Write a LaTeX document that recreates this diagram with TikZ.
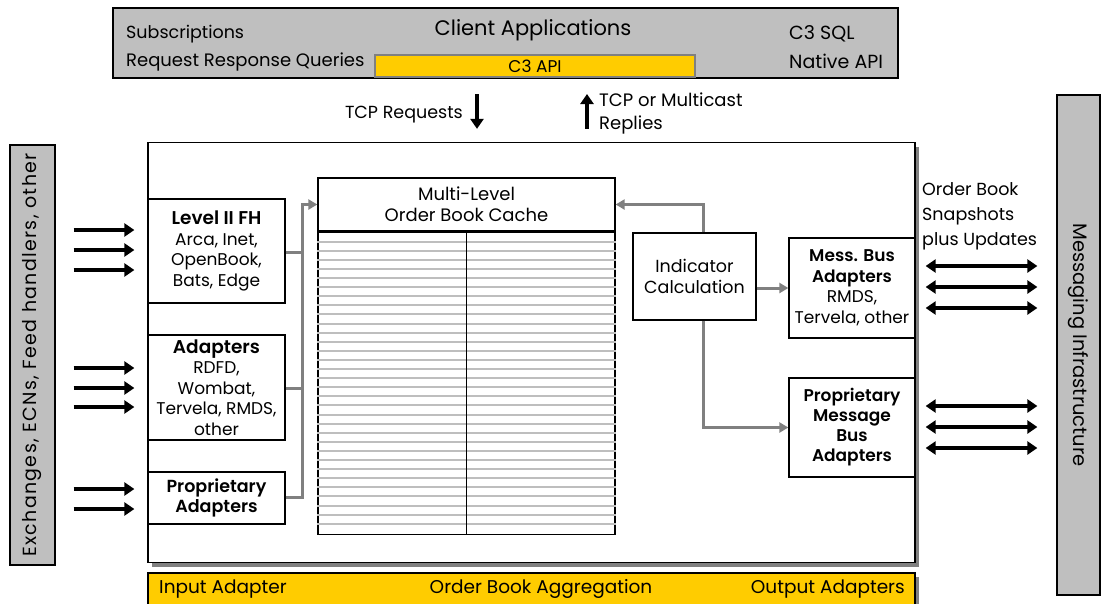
\documentclass[tikz,border=0pt]{standalone}
\usepackage{fontspec}
\setmainfont{Poppins}[BoldFont={Poppins SemiBold}]
\newfontfamily\spacedfont{Poppins}[LetterSpace=7]
\usetikzlibrary{arrows.meta,positioning,shadows}

\definecolor{barGray}{RGB}{191,191,191}
\definecolor{apiYellow}{RGB}{255,204,0}
\definecolor{linkGray}{RGB}{128,128,128}
\definecolor{ruleGray}{RGB}{190,190,190}

\begin{document}
\begin{tikzpicture}[x=1pt,y=-1pt,
  every node/.style={inner sep=1pt},
  box/.style={draw, line width=1.3pt, fill=white, align=center,
    font=\fontsize{17}{20.5}\selectfont},
  bar/.style={draw, line width=1.3pt, fill=barGray},
  shade/.style={drop shadow={shadow xshift=4pt,shadow yshift=-4pt,fill=linkGray,opacity=1}},
  lbl/.style={font=\fontsize{17.5}{24}\selectfont, align=left},
  feed/.style={-{Triangle[length=10pt,width=13pt]}, line width=4pt},
  duplex/.style={{Triangle[length=10pt,width=13pt]}-{Triangle[length=10pt,width=13pt]}, line width=4pt},
  link/.style={-{Triangle[length=9pt,width=10pt]}, draw=linkGray, line width=3pt}]
  \useasboundingbox (0,0) rectangle (1104,603);

  % client side
  \node[bar, line width=2pt, minimum width=785, minimum height=70] (client) at (505.5,43) {};
  \node[font=\fontsize{21}{24}\selectfont] (clientTitle) at (533,30) {Client Applications};
  \node[lbl, anchor=west] (subs) at (125,34) {Subscriptions};
  \node[lbl, anchor=west, font=\fontsize{18}{24}\selectfont] (rrq) at (125,62) {Request Response Queries};
  \node[lbl, anchor=west, font=\fontsize{19}{24}\selectfont] (sql) at (788,34) {C3 SQL};
  \node[lbl, anchor=west, font=\fontsize{19}{24}\selectfont] (native) at (788,61) {Native API};
  \node[draw=linkGray, line width=1.2pt, fill=apiYellow, minimum width=320, minimum height=22,
    font=\fontsize{17}{18}\selectfont] (api) at (535,66) {C3 API};

  % outer frames
  \node[draw, line width=1.3pt, fill=white, shade, minimum width=767, minimum height=420] (engine) at (531.5,352.5) {};
  \node[bar, minimum width=45, minimum height=420] (inbar) at (32.5,355)
    {\rotatebox{90}{\spacedfont\fontsize{19}{20}\selectfont Exchanges, ECNs, Feed handlers, other}};
  \node[bar, minimum width=43, minimum height=500] (outbar) at (1078.5,345)
    {\rotatebox{-90}{\fontsize{19.5}{20}\selectfont Messaging Infrastructure}};
  \node[draw, line width=1.3pt, fill=apiYellow, shade, minimum width=767, minimum height=32] (stages) at (531.5,589) {};
  \node[lbl, anchor=west, font=\fontsize{18.5}{24}\selectfont] (inStage) at (158,589) {Input Adapter};
  \node[lbl, font=\fontsize{18.5}{24}\selectfont] (aggStage) at (541,589) {Order Book Aggregation};
  \node[lbl, anchor=east, font=\fontsize{18.5}{24}\selectfont] (outStage) at (906,589) {Output Adapters};

  % input adapters
  \node[box, minimum width=137, minimum height=104] (lvl) at (216.5,251)
    {\textbf{\fontsize{18.5}{21}\selectfont Level II FH}\\Arca, Inet,\\OpenBook,\\Bats, Edge};
  \node[box, minimum width=137, minimum height=105] (adp) at (216.5,387.5)
    {\textbf{\fontsize{18.5}{21}\selectfont Adapters}\\RDFD,\\Wombat,\\Tervela, RMDS,\\other};
  \node[box, minimum width=137, minimum height=52, font=\bfseries\fontsize{17.5}{20}\selectfont] (prop) at (216.5,498)
    {Proprietary\\Adapters};

  % cache
  \node[box, minimum width=297, minimum height=53, font=\fontsize{18}{21}\selectfont] (head) at (466.5,204.5)
    {Multi-Level\\Order Book Cache};
  \node[draw, line width=1.3pt, anchor=north, minimum width=297, minimum height=302] (book) at (head.south) {};
  \foreach \k in {0,...,31}
    \draw[ruleGray, line width=2pt] ([yshift=-(10+9.1*\k)]book.north west) -- ([yshift=-(10+9.1*\k)]book.north east);
  \draw[line width=1.3pt] (book.north) -- (book.south);

  % output side
  \node[box, minimum width=123, minimum height=87, font=\fontsize{17.5}{21}\selectfont] (ind) at (694.5,276.5)
    {Indicator\\Calculation};
  \node[box, minimum width=126, minimum height=100] (mbus) at (852,288)
    {\textbf{Mess. Bus}\\\textbf{Adapters}\\RMDS,\\Tervela, other};
  \node[box, minimum width=126, minimum height=99, font=\bfseries\fontsize{17}{20}\selectfont] (pmb) at (852,427.5)
    {Proprietary\\Message\\Bus\\Adapters};

  % grey links
  \coordinate (merge) at (302,204.5);
  \draw[link] (prop.east |- 0,497) -| (merge) -- (head.west);
  \draw[draw=linkGray, line width=3pt] (lvl.east |- 0,252) -- (merge |- 0,252);
  \draw[draw=linkGray, line width=3pt] (adp.east |- 0,388) -- (merge |- 0,388);
  \draw[link] (ind.north -| 703,0) |- (head.east);
  \draw[link] (ind.east |- mbus.west) -- (mbus.west);
  \draw[link] (ind.south -| 703,0) |- (pmb.west);

  % black arrows
  \foreach \y in {230,250,270,368,388,407,489,509}
    \draw[feed] ([xshift=18]inbar.east |- 0,\y) -- ([xshift=-13]engine.west |- 0,\y);
  \foreach \y in {266,287,308,406,427,448}
    \draw[duplex] ([xshift=10]engine.east |- 0,\y) -- ([xshift=-19]outbar.west |- 0,\y);
  \draw[feed] ([yshift=-15]client.south -| 477,0) -- ([yshift=13]engine.north -| 477,0);
  \draw[feed] ([yshift=13]engine.north -| 587,0) -- ([yshift=-15]client.south -| 587,0);
  \node[lbl, anchor=east] (tcpReq) at (464,115) {TCP Requests};
  \node[lbl, anchor=north west, font=\fontsize{18}{23}\selectfont] (tcpRep) at (598,92) {TCP or Multicast\\Replies};
  \node[lbl, anchor=north west, font=\fontsize{17.5}{25}\selectfont] (snap) at (921,181) {Order Book\\Snapshots\\plus Updates};
\end{tikzpicture}
\end{document}
